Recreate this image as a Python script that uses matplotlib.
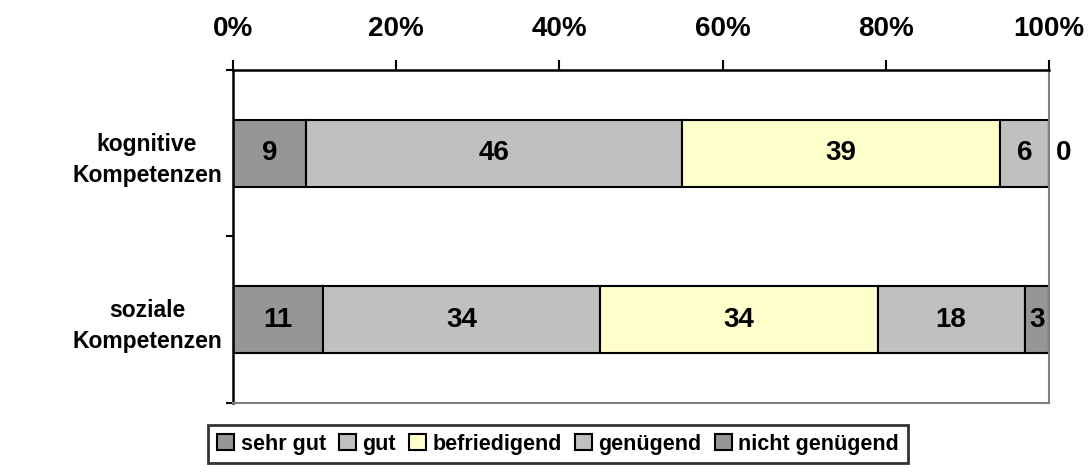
import matplotlib.pyplot as plt
import numpy as np
from matplotlib.ticker import FixedLocator, PercentFormatter

plt.rcParams['font.family'] = ['Liberation Sans', 'DejaVu Sans']
plt.rcParams['font.weight'] = 'bold'

# Daten
kategorien = ['kognitive\nKompetenzen', 'soziale\nKompetenzen']
stufen = ['sehr gut', 'gut', 'befriedigend', 'genügend', 'nicht genügend']
kognitiv = [9, 46, 39, 6, 0]
sozial = [11, 34, 34, 18, 3]
farben = ['#969696', '#c0c0c0', '#ffffcc', '#c0c0c0', '#969696']

werte = np.array([kognitiv, sozial], dtype=float)
anteile = werte / werte.sum(axis=1, keepdims=True) * 100

fs_gross = 20    # Achsenbeschriftung oben + Datenbeschriftung
fs_kat = 16.5    # Kategorien
fs_leg = 15.5    # Legende

fig = plt.figure(figsize=(10.91, 4.73), dpi=100)
ax = fig.add_axes([233/1091, 1-403/473, (1049-233)/1091, (403-70)/473])

y = np.arange(len(kategorien))
links = np.zeros(len(kategorien))
for k, stufe in enumerate(stufen):
    ax.barh(y, anteile[:, k], left=links, height=0.4, color=farben[k],
            edgecolor='black', linewidth=1.5, label=stufe)
    for i in range(len(kategorien)):
        v = werte[i, k]
        if v == 0:
            ax.text(links[i] + anteile[i, k] + 0.9, y[i], '%d' % v,
                    ha='left', va='center', fontsize=fs_gross, fontweight='bold')
        else:
            ax.text(links[i] + anteile[i, k] / 2, y[i], '%d' % v,
                    ha='center', va='center', fontsize=fs_gross, fontweight='bold')
    links += anteile[:, k]

ax.set_xlim(0, 100)
ax.set_ylim(1.5, -0.5)

# x-Achse oben
ax.xaxis.tick_top()
ax.xaxis.set_major_locator(FixedLocator([0, 20, 40, 60, 80, 100]))
ax.xaxis.set_major_formatter(PercentFormatter(decimals=0))
ax.tick_params(axis='x', which='major', direction='out', length=7, width=1.5,
               pad=13, labelsize=fs_gross, colors='black')

# y-Achse
ax.set_yticks(y)
ax.set_yticklabels(kategorien, fontsize=fs_kat, fontweight='bold')
for lab in ax.get_yticklabels():
    lab.set_multialignment('center')
    lab.set_linespacing(1.45)
ax.yaxis.set_minor_locator(FixedLocator([-0.5, 0.5, 1.5]))
ax.tick_params(axis='y', which='major', length=0, pad=8)
ax.tick_params(axis='y', which='minor', direction='out', length=5, width=1.5)

ax.spines['top'].set_linewidth(1.8)
ax.spines['left'].set_linewidth(1.8)
ax.spines['right'].set_color('#808080')
ax.spines['bottom'].set_color('#808080')
ax.spines['right'].set_linewidth(1.5)
ax.spines['bottom'].set_linewidth(1.5)

leg = fig.legend(loc='center', bbox_to_anchor=(558/1091, 1-444/473), ncol=5,
                 frameon=True, fancybox=False, edgecolor='black',
                 prop={'size': fs_leg, 'weight': 'bold'},
                 handlelength=0.8, handleheight=0.8, handletextpad=0.3,
                 columnspacing=0.6, borderpad=0.4, borderaxespad=0)
leg.get_frame().set_linewidth(2)

fig.savefig('out.png', dpi=100)
